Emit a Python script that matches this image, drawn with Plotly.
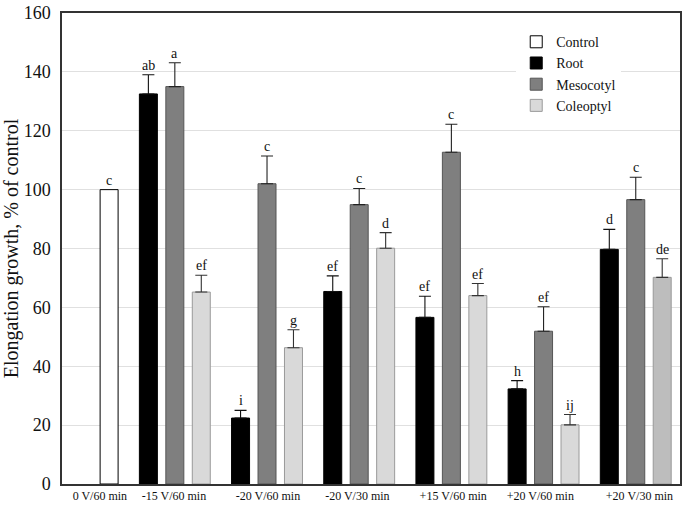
import plotly.graph_objects as go

groups = ["0 V/60 min", "-15 V/60 min", "-20 V/60 min", "-20 V/30 min",
          "+15 V/60 min", "+20 V/60 min", "+20 V/30 min"]

control_val = [100]
control_err = [0]
control_lbl = ["c"]

root_val = [132.5, 22.4, 65.4, 56.6, 32.3, 79.7]
root_err = [6.5, 2.6, 5.3, 7.2, 2.8, 6.8]
root_lbl = ["ab", "i", "ef", "ef", "h", "d"]

meso_val = [135.0, 102.0, 94.9, 112.7, 51.9, 96.6]
meso_err = [8.1, 9.4, 5.5, 9.5, 8.3, 7.6]
meso_lbl = ["a", "c", "c", "c", "ef", "c"]

coleo_val = [65.2, 46.3, 80.1, 64.0, 20.1, 70.2]
coleo_err = [5.7, 6.1, 5.3, 4.1, 3.5, 6.3]
coleo_lbl = ["ef", "g", "d", "ef", "ij", "de"]

FONT = "Liberation Serif"
bargap = 0.139
slot = (1 - bargap) / 3
xs = list(range(1, 7))

fig = go.Figure()

def err(arr, color):
    return dict(type="data", array=arr, arrayminus=[0] * len(arr), symmetric=False,
                color=color, thickness=1.1, width=6)

fig.add_trace(go.Bar(name="Root", x=xs, y=root_val, offsetgroup="r", legendrank=2,
                     error_y=err(root_err, "#111111"),
                     marker=dict(color="#000000", line=dict(color="#000000", width=1))))
fig.add_trace(go.Bar(name="Mesocotyl", x=xs, y=meso_val, offsetgroup="m", legendrank=3,
                     error_y=err(meso_err, "#222222"),
                     marker=dict(color="#7f7f7f", line=dict(color="#555555", width=1))))
coleo_colors = ["#d9d9d9"] * 5 + ["#bdbdbd"]
fig.add_trace(go.Bar(name="Coleoptyl", x=xs, y=coleo_val, offsetgroup="c", legendrank=4,
                     error_y=err(coleo_err, "#333333"),
                     marker=dict(color=coleo_colors, line=dict(color="#9a9a9a", width=1))))
fig.add_trace(go.Bar(name="Control", x=[0], y=control_val, offsetgroup="c", legendrank=1,
                     marker=dict(color="white", line=dict(color="#000000", width=1))))

# significance letters above error bars
def add_letters(xpos, vals, errs, lbls, off):
    for x, v, e, t in zip(xpos, vals, errs, lbls):
        fig.add_annotation(x=x + off, y=v + e, text=t, showarrow=False,
                           yanchor="bottom", font=dict(family=FONT, size=14, color="#111"))

add_letters([0], control_val, control_err, control_lbl, slot)
add_letters(xs, root_val, root_err, root_lbl, -slot)
add_letters(xs, meso_val, meso_err, meso_lbl, 0)
add_letters(xs, coleo_val, coleo_err, coleo_lbl, slot)

fig.update_layout(
    width=685, height=506,
    margin=dict(l=62, r=3, t=7, b=22),
    paper_bgcolor="white", plot_bgcolor="white",
    barmode="group", bargap=bargap, bargroupgap=0.32,
    font=dict(family=FONT, color="#111"),
    showlegend=True,
    legend=dict(x=0.735, y=0.972, xanchor="left", yanchor="top",
                bgcolor="white", font=dict(family=FONT, size=14),
                itemwidth=30, tracegroupgap=0),
    xaxis=dict(range=[-0.224, 6.48], showgrid=False, zeroline=False,
               tickvals=[0.187, 0.99, 2.01, 2.98, 4.02, 4.965, 6.04],
               ticktext=groups, tickfont=dict(family=FONT, size=12),
               showline=True, linecolor="#333", linewidth=1.5, mirror=True,
               ticks=""),
    yaxis=dict(range=[0, 160], dtick=20, showgrid=True, gridcolor="#e0e0e0",
               gridwidth=1, zeroline=False, showline=True, linecolor="#333",
               linewidth=1.5, mirror=True, ticks="", ticklabelstandoff=6,
               ticklabeloverflow="allow",
               tickfont=dict(family=FONT, size=18),
               title=dict(text="Elongation growth, % of control",
                          font=dict(family=FONT, size=20), standoff=6)),
)

fig.write_html("out.html", config={"displayModeBar": False},
               post_script="document.body.style.margin='0';")
